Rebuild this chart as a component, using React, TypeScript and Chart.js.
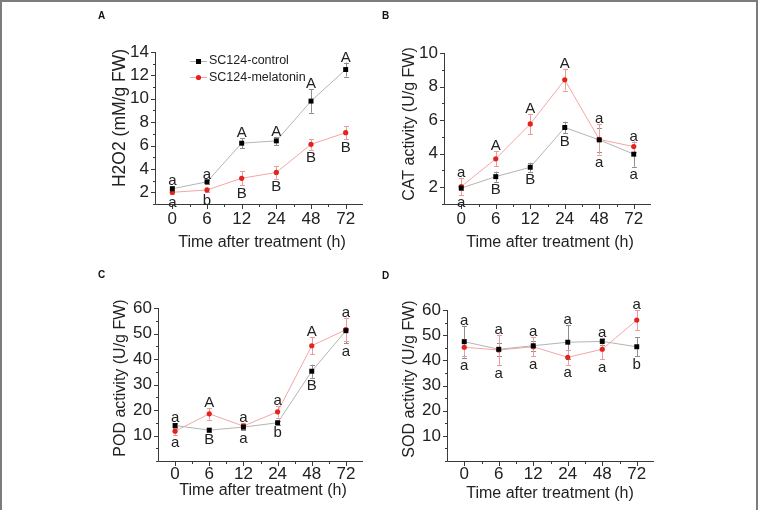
import { useEffect, useRef } from "react";
import { Chart, registerables } from "chart.js";

Chart.register(...registerables);

const FONT = "'Liberation Sans', Arial, Helvetica, sans-serif";
Chart.defaults.font.family = FONT;

// Sampling times after treatment (h)
const TIMES = ["0", "6", "12", "24", "48", "72"];
const SERIES = ["SC124-control", "SC124-melatonin"];

// A: H2O2 content
const h2o2Control = [2.3, 2.9, 6.2, 6.4, 9.8, 12.5];
const h2o2ControlErr = [0.2, 0.15, 0.45, 0.35, 1.0, 0.6];
const h2o2Melatonin = [2.0, 2.2, 3.2, 3.7, 6.1, 7.1];
const h2o2MelatoninErr = [0.15, 0.2, 0.6, 0.55, 0.45, 0.55];
const h2o2ControlSig = ["a", "a", "A", "A", "A", "A"];
const h2o2MelatoninSig = ["a", "b", "B", "B", "B", "B"];
const h2o2Ticks = [2, 4, 6, 8, 10, 12, 14];

// B: CAT activity
const catControl = [1.95, 2.63, 3.19, 5.56, 4.82, 3.97];
const catControlErr = [0.1, 0.3, 0.27, 0.35, 0.7, 0.75];
const catMelatonin = [2.04, 3.69, 5.77, 8.4, 4.85, 4.42];
const catMelatoninErr = [0.5, 0.45, 0.6, 0.64, 0.9, 0.3];
const catControlSig = ["a", "B", "B", "B", "a", "a"];
const catMelatoninSig = ["a", "A", "A", "A", "a", "a"];
const catTicks = [2, 4, 6, 8, 10];

// C: POD activity
const podControl = [13.9, 12.1, 13.3, 15.0, 35.2, 51.1];
const podControlErr = [1.0, 0.7, 1.2, 0.8, 2.6, 5.0];
const podMelatonin = [11.7, 18.5, 13.7, 19.3, 45.2, 51.5];
const podMelatoninErr = [1.5, 2.3, 1.2, 2.3, 3.3, 4.5];
const podControlSig = ["a", "B", "a", "b", "B", "a"];
const podMelatoninSig = ["a", "A", "a", "a", "A", "a"];
const podTicks = [10, 20, 30, 40, 50, 60];

// D: SOD activity
const sodControl = [47.4, 44.4, 45.8, 47.2, 47.5, 45.4];
const sodControlErr = [6.3, 2.5, 2.0, 6.8, 1.4, 3.7];
const sodMelatonin = [45.2, 44.1, 45.4, 41.2, 44.4, 56.0];
const sodMelatoninErr = [3.3, 6.0, 3.8, 3.0, 4.0, 4.0];
const sodControlSig = ["a", "a", "a", "a", "a", "b"];
const sodMelatoninSig = ["a", "a", "a", "a", "a", "a"];
const sodTicks = [10, 20, 30, 40, 50, 60];

const CTRL_LINE = "#b4b4b4";
const CTRL_MARK = "#000000";
const CTRL_ERR = "#8f8f8f";
const MEL_LINE = "#f4a5a5";
const MEL_MARK = "#e3231c";
const MEL_ERR = "#ef9b9b";
const AXIS = "#3a3a3a";
const TEXT = "#222222";

const W = 760;
const H = 510;
const Y_AXIS_W = 40;
const X_AXIS_H = 30;
const TICK_SIZE = 17;

type Area = { left: number; top: number; right: number; bottom: number };

type PanelSpec = {
  tag: string;
  tagPos: [number, number];
  area: Area;
  yMin: number;
  yMax: number;
  yTicks: number[];
  yTitle: string;
  yTitleSize: number;
  yTitlePos: [number, number];
  xTitlePos: [number, number];
  xPad: number;
  control: number[];
  controlErr: number[];
  controlSig: string[];
  melatonin: number[];
  melatoninErr: number[];
  melatoninSig: string[];
  legendPos?: [number, number];
};

const PANELS: PanelSpec[] = [
  {
    tag: "A",
    tagPos: [98, 19],
    area: { left: 155, top: 52, right: 363, bottom: 204 },
    yMin: 1,
    yMax: 14,
    yTicks: h2o2Ticks,
    yTitle: "H2O2 (mM/g FW)",
    yTitleSize: 17.5,
    yTitlePos: [120, 118],
    xTitlePos: [262, 246.5],
    xPad: 5,
    control: h2o2Control,
    controlErr: h2o2ControlErr,
    controlSig: h2o2ControlSig,
    melatonin: h2o2Melatonin,
    melatoninErr: h2o2MelatoninErr,
    melatoninSig: h2o2MelatoninSig,
    legendPos: [190, 60.5],
  },
  {
    tag: "B",
    tagPos: [382, 19],
    area: { left: 444, top: 53, right: 651, bottom: 204 },
    yMin: 1,
    yMax: 10,
    yTicks: catTicks,
    yTitle: "CAT activity (U/g FW)",
    yTitleSize: 16,
    yTitlePos: [410, 124],
    xTitlePos: [550, 246.5],
    xPad: 5,
    control: catControl,
    controlErr: catControlErr,
    controlSig: catControlSig,
    melatonin: catMelatonin,
    melatoninErr: catMelatoninErr,
    melatoninSig: catMelatoninSig,
  },
  {
    tag: "C",
    tagPos: [98, 278],
    area: { left: 158, top: 308, right: 363, bottom: 461 },
    yMin: 0,
    yMax: 60,
    yTicks: podTicks,
    yTitle: "POD activity (U/g FW)",
    yTitleSize: 16,
    yTitlePos: [121, 378],
    xTitlePos: [263, 495],
    xPad: 3,
    control: podControl,
    controlErr: podControlErr,
    controlSig: podControlSig,
    melatonin: podMelatonin,
    melatoninErr: podMelatoninErr,
    melatoninSig: podMelatoninSig,
  },
  {
    tag: "D",
    tagPos: [382, 279],
    area: { left: 447, top: 310, right: 654, bottom: 461 },
    yMin: 0,
    yMax: 60,
    yTicks: sodTicks,
    yTitle: "SOD activity (U/g FW)",
    yTitleSize: 16,
    yTitlePos: [410, 379],
    xTitlePos: [550, 498],
    xPad: 3,
    control: sodControl,
    controlErr: sodControlErr,
    controlSig: sodControlSig,
    melatonin: sodMelatonin,
    melatoninErr: sodMelatoninErr,
    melatoninSig: sodMelatoninSig,
  },
];

const crisp = (v: number) => Math.round(v) + 0.5;

// Axis lines, tick marks, titles, error bars, significance letters and legend
function makeDecor(p: PanelSpec) {
  return {
    id: "panelDecor" + p.tag,
    beforeDatasetsDraw(chart: any) {
      const { ctx } = chart;
      const xs = chart.scales.x;
      const ys = chart.scales.y;
      const bars = (vals: number[], errs: number[], color: string) => {
        ctx.strokeStyle = color;
        vals.forEach((v, i) => {
          const x = crisp(xs.getPixelForValue(i));
          const y1 = ys.getPixelForValue(v + errs[i]);
          const y2 = ys.getPixelForValue(v - errs[i]);
          ctx.beginPath();
          ctx.moveTo(x, y1);
          ctx.lineTo(x, y2);
          ctx.moveTo(x - 2.5, Math.round(y1) + 0.5);
          ctx.lineTo(x + 2.5, Math.round(y1) + 0.5);
          ctx.moveTo(x - 2.5, Math.round(y2) + 0.5);
          ctx.lineTo(x + 2.5, Math.round(y2) + 0.5);
          ctx.stroke();
        });
      };
      ctx.save();
      ctx.lineWidth = 1;
      bars(p.control, p.controlErr, CTRL_ERR);
      bars(p.melatonin, p.melatoninErr, MEL_ERR);
      ctx.restore();
    },
    afterDraw(chart: any) {
      const { ctx } = chart;
      const xs = chart.scales.x;
      const ys = chart.scales.y;
      const a = chart.chartArea;
      ctx.save();

      // axis lines
      ctx.strokeStyle = AXIS;
      ctx.lineWidth = 1;
      const ax = crisp(a.left);
      const ay = crisp(a.bottom);
      ctx.beginPath();
      ctx.moveTo(ax, a.top);
      ctx.lineTo(ax, ay);
      ctx.lineTo(a.right, ay);
      ctx.stroke();

      // y ticks: major at labelled values, minor halfway between
      const step = p.yTicks[1] - p.yTicks[0];
      ctx.beginPath();
      for (let v = p.yMin; v <= p.yMax + 1e-9; v += step / 2) {
        const isMajor = p.yTicks.some((t) => Math.abs(t - v) < 1e-9);
        const y = crisp(ys.getPixelForValue(v));
        ctx.moveTo(ax, y);
        ctx.lineTo(ax - (isMajor ? 4.5 : 2.5), y);
      }
      // x ticks: major at each time, minor between
      for (let i = 0; i < TIMES.length; i++) {
        const x = crisp(xs.getPixelForValue(i));
        ctx.moveTo(x, ay);
        ctx.lineTo(x, ay + 4.5);
        if (i < TIMES.length - 1) {
          const xm = crisp((xs.getPixelForValue(i) + xs.getPixelForValue(i + 1)) / 2);
          ctx.moveTo(xm, ay);
          ctx.lineTo(xm, ay + 2.5);
        }
      }
      ctx.stroke();

      // axis titles
      ctx.fillStyle = TEXT;
      ctx.font = `16px ${FONT}`;
      ctx.textAlign = "center";
      ctx.textBaseline = "alphabetic";
      ctx.fillText("Time after treatment (h)", p.xTitlePos[0], p.xTitlePos[1]);
      ctx.save();
      ctx.translate(p.yTitlePos[0], p.yTitlePos[1]);
      ctx.rotate(-Math.PI / 2);
      ctx.font = `${p.yTitleSize}px ${FONT}`;
      ctx.textBaseline = "middle";
      ctx.fillText(p.yTitle, 0, 0);
      ctx.restore();

      // significance letters above the upper series and below the lower one
      ctx.font = `15px ${FONT}`;
      ctx.textAlign = "center";
      ctx.textBaseline = "alphabetic";
      for (let i = 0; i < TIMES.length; i++) {
        const c = p.control[i];
        const m = p.melatonin[i];
        const top = Math.max(c + p.controlErr[i], m + p.melatoninErr[i]);
        const bot = Math.min(c - p.controlErr[i], m - p.melatoninErr[i]);
        const upper = c >= m ? p.controlSig[i] : p.melatoninSig[i];
        const lower = c >= m ? p.melatoninSig[i] : p.controlSig[i];
        const x = xs.getPixelForValue(i);
        ctx.fillText(upper, x, ys.getPixelForValue(top) - 1);
        ctx.fillText(lower, x, ys.getPixelForValue(bot) + 12.5);
      }

      // legend
      if (p.legendPos) {
        const [lx, ly] = p.legendPos;
        const rows = [
          { name: SERIES[0], line: CTRL_LINE, mark: CTRL_MARK, rect: true },
          { name: SERIES[1], line: MEL_LINE, mark: MEL_MARK, rect: false },
        ];
        ctx.font = `12.5px ${FONT}`;
        ctx.textAlign = "left";
        ctx.textBaseline = "middle";
        rows.forEach((r, k) => {
          const y = ly + k * 16.5;
          ctx.strokeStyle = r.line;
          ctx.beginPath();
          ctx.moveTo(lx, crisp(y));
          ctx.lineTo(lx + 17, crisp(y));
          ctx.stroke();
          ctx.fillStyle = r.mark;
          if (r.rect) {
            ctx.fillRect(lx + 6, crisp(y) - 2.5, 5, 5);
          } else {
            ctx.beginPath();
            ctx.arc(lx + 8.5, crisp(y), 2.6, 0, Math.PI * 2);
            ctx.fill();
          }
          ctx.fillStyle = TEXT;
          ctx.fillText(r.name, lx + 19, y + 0.5);
        });
      }

      // panel tag
      ctx.fillStyle = "#111";
      ctx.font = `bold 10px ${FONT}`;
      ctx.textAlign = "left";
      ctx.textBaseline = "alphabetic";
      ctx.fillText(p.tag, p.tagPos[0], p.tagPos[1]);

      ctx.restore();
    },
  };
}

function buildConfig(p: PanelSpec): any {
  return {
    type: "line",
    data: {
      labels: TIMES,
      datasets: [
        {
          label: SERIES[0],
          data: p.control,
          borderColor: CTRL_LINE,
          borderWidth: 1,
          pointStyle: "rect",
          pointRadius: 3.5,
          pointBorderWidth: 0,
          pointBackgroundColor: CTRL_MARK,
          pointBorderColor: CTRL_MARK,
          tension: 0,
          fill: false,
        },
        {
          label: SERIES[1],
          data: p.melatonin,
          borderColor: MEL_LINE,
          borderWidth: 1,
          pointStyle: "circle",
          pointRadius: 2.6,
          pointBorderWidth: 0,
          pointBackgroundColor: MEL_MARK,
          pointBorderColor: MEL_MARK,
          tension: 0,
          fill: false,
        },
      ],
    },
    options: {
      responsive: false,
      animation: false,
      events: [],
      layout: {
        padding: {
          left: p.area.left - Y_AXIS_W,
          top: p.area.top,
          right: W - p.area.right,
          bottom: H - p.area.bottom - X_AXIS_H,
        },
      },
      plugins: {
        legend: { display: false },
        tooltip: { enabled: false },
        title: { display: false },
      },
      scales: {
        x: {
          type: "category",
          offset: true,
          grid: { display: false, drawTicks: false },
          border: { display: false },
          ticks: {
            color: TEXT,
            font: { size: TICK_SIZE, family: FONT },
            padding: p.xPad,
            maxRotation: 0,
            autoSkip: false,
          },
          afterFit: (s: any) => {
            s.height = X_AXIS_H;
          },
        },
        y: {
          type: "linear",
          min: p.yMin,
          max: p.yMax,
          grid: { display: false, drawTicks: false },
          border: { display: false },
          ticks: {
            color: TEXT,
            font: { size: TICK_SIZE, family: FONT },
            padding: 6,
          },
          afterBuildTicks: (s: any) => {
            s.ticks = p.yTicks.map((v) => ({ value: v }));
          },
          afterFit: (s: any) => {
            s.width = Y_AXIS_W;
          },
        },
      },
    },
    plugins: [makeDecor(p)],
  };
}

function Panel({ spec }: { spec: PanelSpec }) {
  const ref = useRef<HTMLCanvasElement>(null);
  useEffect(() => {
    if (!ref.current) return;
    const chart = new Chart(ref.current, buildConfig(spec));
    return () => chart.destroy();
  }, [spec]);
  return (
    <canvas
      ref={ref}
      width={W}
      height={H}
      style={{ position: "absolute", left: 0, top: 0, width: W, height: H }}
    />
  );
}

export default function App() {
  return (
    <div
      style={{
        position: "absolute",
        left: 0,
        top: 0,
        width: W,
        height: H,
        background: "#fff",
        overflow: "hidden",
      }}
    >
      <div
        style={{
          position: "absolute",
          left: 0,
          top: 0,
          width: 758,
          height: H + 10,
          boxSizing: "border-box",
          borderTop: "2px solid #7c7c7c",
          borderLeft: "2px solid #7c7c7c",
          borderRight: "2px solid #7c7c7c",
        }}
      />
      {PANELS.map((p) => (
        <Panel key={p.tag} spec={p} />
      ))}
    </div>
  );
}
